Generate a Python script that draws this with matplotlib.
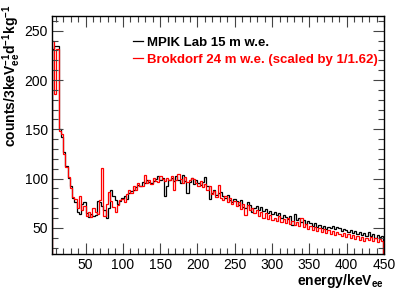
import numpy as np
import matplotlib
matplotlib.use("Agg")
import matplotlib.pyplot as plt
from matplotlib.ticker import MultipleLocator

plt.rcParams['font.family'] = ['Liberation Sans', 'DejaVu Sans']
plt.rcParams['mathtext.fontset'] = 'custom'
plt.rcParams['mathtext.rm'] = 'Liberation Sans:bold'
plt.rcParams['mathtext.it'] = 'Liberation Sans:bold'
plt.rcParams['mathtext.bf'] = 'Liberation Sans:bold'

# 3 keV bins starting at 5 keV
bin_start = 5
bin_width = 3

mpik = [232, 235, 235, 150, 142, 127, 113, 101, 92, 80,
        76, 66, 64, 74, 76, 65, 61, 64, 62, 63,
        77, 76, 72, 68, 60, 70, 88, 82, 78, 74,
        77, 80, 82, 79, 85, 87, 88, 91, 94, 92,
        97, 96, 99, 97, 96, 98, 100, 103, 99, 101,
        82, 92, 99, 101, 98, 103, 99, 96, 104, 98,
        85, 97, 101, 95, 99, 96, 94, 97, 102, 92,
        79, 85, 88, 83, 85, 86, 82, 80, 83, 78,
        76, 79, 77, 73, 78, 71, 70, 76, 73, 66,
        70, 72, 68, 71, 67, 69, 65, 67, 64, 66,
        63, 65, 60, 63, 61, 59, 62, 53, 64, 58,
        60, 56, 58, 54, 57, 55, 52, 55, 51, 53,
        50, 52, 49, 51, 50, 52, 49, 51, 50, 47,
        49, 48, 46, 48, 45, 47, 44, 46, 43, 45,
        42, 46, 42, 44, 40, 43, 41, 42]

brokdorf = [240, 186, 232, 148, 145, 125, 112, 102, 90, 81,
            79, 70, 82, 68, 72, 62, 66, 61, 70, 66,
            64, 78, 111, 62, 74, 86, 77, 71, 66, 73,
            78, 79, 76, 84, 88, 85, 92, 88, 96, 92,
            93, 104, 96, 99, 95, 101, 98, 97, 103, 100,
            98, 101, 99, 103, 88, 99, 105, 100, 96, 102,
            97, 99, 101, 100, 96, 93, 98, 91, 95, 88,
            92, 84, 87, 81, 94, 80, 78, 82, 76, 80,
            74, 77, 72, 76, 69, 74, 63, 73, 68, 70,
            65, 68, 62, 66, 60, 65, 59, 63, 58, 60,
            57, 62, 56, 59, 55, 60, 54, 57, 53, 56,
            52, 60, 51, 54, 49, 52, 48, 51, 47, 50,
            46, 49, 45, 48, 44, 47, 43, 46, 44, 42,
            45, 41, 44, 40, 43, 39, 42, 38, 41, 37,
            40, 38, 41, 37, 40, 36, 39, 37]

edges = bin_start + bin_width * np.arange(len(mpik) + 1)

fig = plt.figure(figsize=(4.15, 2.98), dpi=100)
ax = fig.add_axes([52 / 415, 44 / 298, 332 / 415, 238 / 298])

ax.stairs(mpik, edges, baseline=0, color='black', linewidth=0.9,
          label='MPIK Lab 15 m w.e.')
ax.stairs(brokdorf, edges, baseline=0, color='#ff0000', linewidth=0.9,
          label='Brokdorf 24 m w.e. (scaled by 1/1.62)')

ax.set_xlim(5, 450)
ax.set_ylim(23.5, 265)

ax.xaxis.set_major_locator(MultipleLocator(50))
ax.xaxis.set_minor_locator(MultipleLocator(10))
ax.yaxis.set_major_locator(MultipleLocator(50))
ax.yaxis.set_minor_locator(MultipleLocator(10))
ax.tick_params(which='both', direction='in', top=True, right=True,
               labelsize=10, width=0.8, color='#444444')
ax.tick_params(which='major', length=8, pad=3)
ax.tick_params(which='minor', length=4)
for s in ax.spines.values():
    s.set_linewidth(1.0)

fig.text(384 / 415, 1 - 285 / 298, r'energy/keV$_{\mathrm{ee}}$',
         ha='right', va='baseline', fontsize=10, fontweight='bold')
fig.text(12 / 415, 1 - 4 / 298,
         r'counts/3keV$_{\mathrm{ee}}^{-1}$d$^{-1}$kg$^{-1}$',
         ha='center', va='top', rotation=90, fontsize=10, fontweight='bold')

leg = ax.legend(loc='upper left', bbox_to_anchor=(121 / 415, 1 - 25 / 298),
                bbox_transform=fig.transFigure, frameon=False,
                handlelength=0.8, handletextpad=0.3, labelspacing=0.35,
                prop={'weight': 'bold', 'size': 9.5})
leg.get_texts()[0].set_color('black')
leg.get_texts()[1].set_color('#ff0000')

fig.savefig('out.png', dpi=100)
